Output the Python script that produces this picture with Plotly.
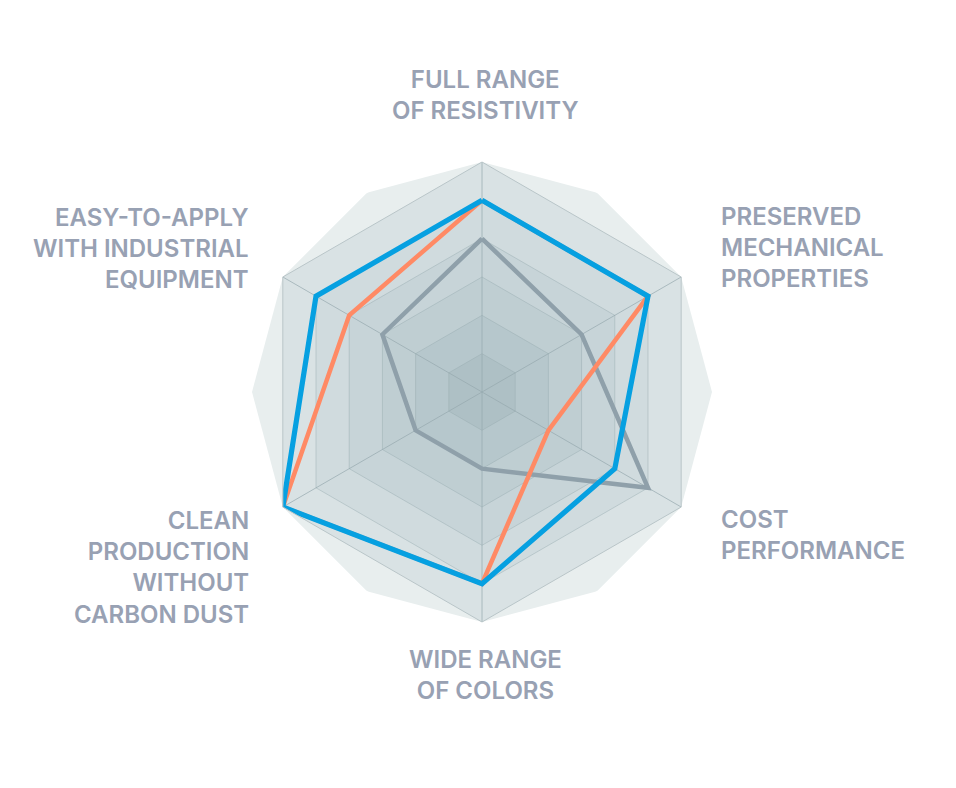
import plotly.graph_objects as go

categories = [
    "FULL RANGE<br>OF RESISTIVITY",
    "PRESERVED<br>MECHANICAL<br>PROPERTIES",
    "COST<br>PERFORMANCE",
    "WIDE RANGE<br>OF COLORS",
    "CLEAN<br>PRODUCTION<br>WITHOUT<br>CARBON DUST",
    "EASY-TO-APPLY<br>WITH INDUSTRIAL<br>EQUIPMENT",
]
blue_values = [5, 5, 4, 5, 6, 5]
orange_values = [5, 5, 2, 5, 6, 4]
grey_values = [4, 3, 5, 2, 2, 3]

ring_levels = [6, 5, 4, 3, 2, 1]
ring_colors = ["#d9e2e4", "#d0dbde", "#c7d4d8", "#bfced2", "#b6c7cc", "#aec0c5"]
outer_level = 6
outer_color = "#e8eeee"

W, H = 956, 788
OFF = 8  # page body margin
CX, CY, R = 482, 392, 230  # chart centre / radius on the page

n = len(categories)
hex_theta = [i * 360 / n for i in range(n)] + [0]
dodeca_theta = [i * 30 for i in range(12)] + [0]

fig = go.Figure()

fig.add_trace(go.Scatterpolar(
    r=[outer_level] * len(dodeca_theta), theta=dodeca_theta, mode="lines",
    fill="toself", fillcolor=outer_color, line=dict(width=0, color=outer_color),
    hoverinfo="skip", showlegend=False, subplot="polar"))
for lvl, col in zip(ring_levels, ring_colors):
    fig.add_trace(go.Scatterpolar(
        r=[lvl] * len(hex_theta), theta=hex_theta, mode="lines",
        fill="toself", fillcolor=col, line=dict(width=0, color=col),
        hoverinfo="skip", showlegend=False, subplot="polar"))

def closed(v):
    return list(v) + [v[0]]

for vals, col, w in [(grey_values, "#8fa0aa", 4.5),
                     (orange_values, "#ff8a65", 4.5),
                     (blue_values, "#06a0e1", 5.2)]:
    fig.add_trace(go.Scatterpolar(
        r=closed(vals), theta=closed(categories), mode="lines",
        line=dict(color=col, width=w), hoverinfo="skip",
        showlegend=False, subplot="polar2"))

px_x = lambda x: (x - OFF) / W
px_y = lambda y: 1 - (y - OFF) / H

dom_x = [px_x(CX - R), px_x(CX + R)]
dom_y = [px_y(CY + R), px_y(CY - R)]

label_font = dict(family="Inter", size=24, color="#98a1b3", weight=600)
label_specs = [
    (485, 95, "center", "middle", "center"),
    (719, 247, "left", "middle", "left"),
    (719, 535, "left", "middle", "left"),
    (485, 675, "center", "middle", "center"),
    (251, 567, "right", "middle", "right"),
    (251, 248, "right", "middle", "right"),
]
annotations = []
for text, (x, y, xa, ya, al) in zip(categories, label_specs):
    annotations.append(dict(
        text=text, x=px_x(x), y=px_y(y), xref="paper", yref="paper",
        xanchor=xa, yanchor=ya, align=al, showarrow=False, font=label_font))

fig.update_layout(
    width=W, height=H,
    margin=dict(l=0, r=0, t=0, b=0),
    paper_bgcolor="white", plot_bgcolor="white",
    showlegend=False,
    annotations=annotations,
    polar=dict(
        domain=dict(x=dom_x, y=dom_y),
        bgcolor="rgba(0,0,0,0)",
        radialaxis=dict(range=[0, 6], visible=False),
        angularaxis=dict(type="linear", rotation=90, direction="clockwise",
                         visible=False),
    ),
    polar2=dict(
        domain=dict(x=dom_x, y=dom_y),
        bgcolor="rgba(0,0,0,0)",
        gridshape="linear",
        radialaxis=dict(range=[0, 6], tickvals=[1, 2, 3, 4, 5, 6],
                        showticklabels=False, ticks="", showline=False,
                        gridcolor="rgba(150,170,176,0.45)", gridwidth=1),
        angularaxis=dict(type="category", categoryorder="array",
                         categoryarray=categories,
                         rotation=90, direction="clockwise",
                         showline=True, linecolor="#b9c5c8", linewidth=1,
                         gridcolor="rgba(150,168,174,0.7)", gridwidth=1,
                         showticklabels=False, ticks=""),
    ),
)

fig.write_html("out.html")
